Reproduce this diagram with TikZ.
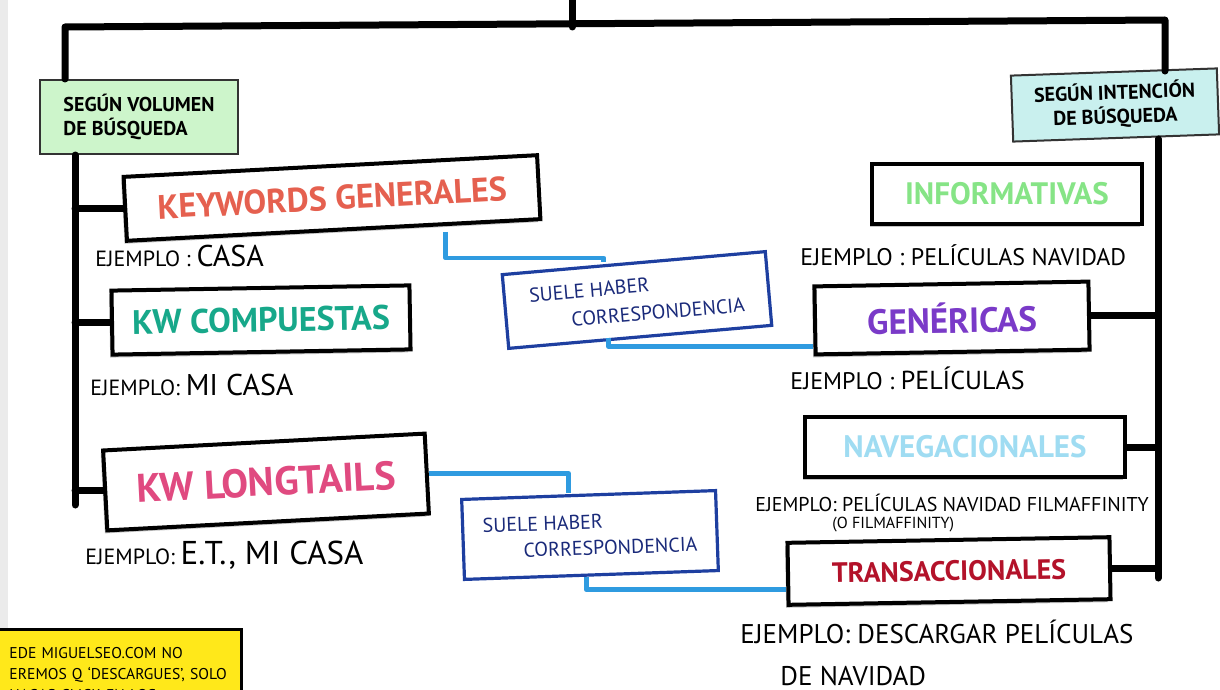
\documentclass[tikz,border=0pt]{standalone}
\usepackage{fontspec}
\setmainfont{PT Sans}
\usetikzlibrary{calc, positioning, shadows}

\definecolor{volgreen}{HTML}{CDF5CB}
\definecolor{intcyan}{HTML}{C9F0EE}
\definecolor{kwred}{HTML}{E5604F}
\definecolor{kwteal}{HTML}{17A88A}
\definecolor{kwpink}{HTML}{E04A80}
\definecolor{infgreen}{HTML}{86E486}
\definecolor{genpurple}{HTML}{7A3AC8}
\definecolor{navblue}{HTML}{9FDCF2}
\definecolor{trared}{HTML}{B3122A}
\definecolor{corrnavy}{HTML}{1E3FA0}
\definecolor{corrlight}{HTML}{2F9BE0}
\definecolor{corrtext}{HTML}{1A2A7A}
\definecolor{noteyellow}{HTML}{FFE81A}

\tikzset{
  trunk/.style={line width=3.5pt, line cap=round, line join=round},
  tagbox/.style={draw=black!80, line width=1pt, inner sep=0pt, align=left,
    font=\bfseries\fontsize{10}{12}\selectfont},
  kwbox/.style={draw=black, line width=2pt, fill=white, inner sep=0pt,
    drop shadow={shadow xshift=-1.2pt, shadow yshift=-1.5pt, fill=black!45}},
  corrbox/.style={draw=corrnavy, line width=1.6pt, fill=white, inner sep=0pt,
    align=left, text=corrtext, font=\fontsize{10}{13}\selectfont},
  corr/.style={corrlight, line width=2.4pt, line join=round},
  example/.style={anchor=west, inner sep=0pt, font=\fontsize{11}{13}\selectfont}
}

\begin{document}
\begin{tikzpicture}[x=0.5pt, y=-0.5pt]
\useasboundingbox (0,0) rectangle (1220,690);
\clip (0,0) rectangle (1220,690);
\fill[white] (0,0) rectangle (1220,690);
\fill[black!8] (0,0) rectangle (8,690);

% Classification headers
\node[tagbox, fill=volgreen, minimum width=99pt, minimum height=37pt] (vol) at (139,117)
  {SEGÚN VOLUMEN\\DE BÚSQUEDA};
\node[tagbox, fill=intcyan, align=center, minimum width=103pt, minimum height=33pt, rotate=2] (int) at (1115,105)
  {SEGÚN INTENCIÓN\\DE BÚSQUEDA};

% Keyword types by volume
\node[kwbox, text=kwred, minimum width=207pt, minimum height=32pt, rotate=3,
  font=\bfseries\fontsize{17}{17}\selectfont] (kwgen) at (332,198) {KEYWORDS GENERALES};
\node[kwbox, text=kwteal, minimum width=149pt, minimum height=32pt, rotate=1,
  font=\bfseries\fontsize{17}{17}\selectfont] (kwcomp) at (261,320) {KW COMPUESTAS};
\node[kwbox, text=kwpink, minimum width=161pt, minimum height=40pt, rotate=3,
  font=\bfseries\fontsize{20}{20}\selectfont] (kwlong) at (266,482) {KW LONGTAILS};

% Keyword types by intent
\node[kwbox, text=infgreen, minimum width=135pt, minimum height=30pt,
  font=\bfseries\fontsize{15.5}{16}\selectfont] (info) at (1007,194) {INFORMATIVAS};
\node[kwbox, text=genpurple, minimum width=137pt, minimum height=34pt, rotate=1,
  font=\bfseries\fontsize{17.5}{18}\selectfont] (gene) at (952,318) {GENÉRICAS};
\node[kwbox, text=navblue, minimum width=160pt, minimum height=30pt,
  font=\bfseries\fontsize{15.5}{16}\selectfont] (nave) at (965,447) {NAVEGACIONALES};
\node[kwbox, text=trared, minimum width=161pt, minimum height=31pt, rotate=1,
  font=\bfseries\fontsize{14}{15}\selectfont] (trans) at (949,571) {TRANSACCIONALES};

% Examples
\node[example] (ex1) at (95,256) {EJEMPLO : {\fontsize{15}{15}\selectfont CASA}};
\node[example] (ex2) at (90,385) {EJEMPLO: {\fontsize{15}{15}\selectfont MI CASA}};
\node[example] (ex3) at (85,555) {EJEMPLO: {\fontsize{16.5}{16.5}\selectfont E.T., MI CASA}};
\node[example, font=\fontsize{12}{14}\selectfont] (ex4) at (800,255) {EJEMPLO : PELÍCULAS NAVIDAD};
\node[example, font=\fontsize{12}{14}\selectfont] (ex5) at (790,378) {EJEMPLO : {\fontsize{13}{14}\selectfont PELÍCULAS}};
\node[example, font=\fontsize{10}{12}\selectfont] (ex6) at (755,503) {EJEMPLO: PELÍCULAS NAVIDAD FILMAFFINITY};
\node[example, font=\fontsize{8}{9}\selectfont] (ex6b) at (832,525) {(O FILMAFFINITY)};
\node[example, font=\fontsize{13.5}{14}\selectfont] (ex7) at (740,632) {EJEMPLO: DESCARGAR PELÍCULAS};
\node[example, font=\fontsize{13.5}{14}\selectfont] (ex7b) at (780,676) {DE NAVIDAD};

% Correspondence boxes
\node[corrbox, minimum width=132pt, minimum height=37pt, rotate=5] (corr1) at (637,300)
  {SUELE HABER\\[1pt]\hspace*{2em}CORRESPONDENCIA};
\node[corrbox, minimum width=127pt, minimum height=40pt, rotate=2] (corr2) at (590,535)
  {SUELE HABER\\\hspace*{2em}CORRESPONDENCIA};

% Note
\node[draw=black, line width=1.5pt, fill=noteyellow, anchor=north west, inner xsep=3pt, inner ysep=2pt,
  minimum height=45pt, align=left, text width=124pt,
  font=\fontsize{7.8}{10.5}\selectfont] (note) at (-20,628)
  {\hspace*{11pt}EDE MIGUELSEO.COM NO\\\hspace*{11pt}EREMOS Q `DESCARGUES', SOLO\\\hspace*{11pt}HAGAS CLICK EN LOS};

% Main tree
\coordinate (stem) at (572,0);
\coordinate (barL) at (65,27);
\coordinate (barR) at (1165,20);
\draw[trunk] (stem) -- (stem |- barL);
\draw[trunk] (vol.north -| barL) -- (barL) -- (barR) -- (barR |- int.north);

% Left spine
\coordinate (spL) at (75,505);
\draw[trunk] (vol.south -| spL) -- (spL);
\draw[trunk] (kwgen.west -| spL) -- (kwgen.west);
\draw[trunk] (kwcomp.west -| spL) -- (kwcomp.west);
\draw[trunk] (kwlong.west -| spL) -- (kwlong.west);

% Right spine
\coordinate (spR) at (1158,578);
\draw[trunk] (int.south -| spR) -- (spR);
\draw[trunk] (gene.east) -- (gene.east -| spR);
\draw[trunk] (nave.east) -- (nave.east -| spR);
\draw[trunk] (trans.east) -- (trans.east -| spR);

% Correspondence links
\draw[corr] ([xshift=56pt]kwgen.south) -- ++(0,26) -| ([xshift=-15pt]corr1.north);
\draw[corr] ([xshift=-16pt]corr1.south) |- ([yshift=-13pt]gene.west);
\draw[corr] (kwlong.east) -| ([xshift=-10pt]corr2.north);
\draw[corr] ([xshift=-2.5pt]corr2.south) |- ([yshift=-8pt]trans.west);
\end{tikzpicture}
\end{document}
